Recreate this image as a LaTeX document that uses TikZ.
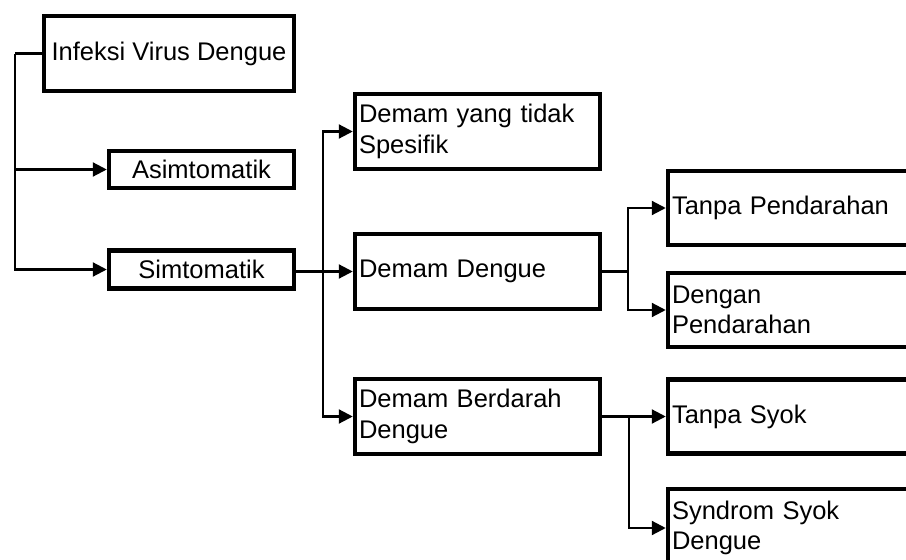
\documentclass[tikz,border=0pt]{standalone}
\usepackage{fontspec}
\setmainfont{Liberation Sans}
\usetikzlibrary{arrows.meta}
\begin{document}
\begin{tikzpicture}[x=1pt,y=-1pt,
  box/.style={draw=black,line width=4.5pt,fill=white,inner xsep=4pt,inner ysep=0pt,
    font=\fontsize{25.5}{30.6}\selectfont},
  cbox/.style={box,align=center},
  lbox/.style={box,align=left,text width=#1},
  conn/.style={line width=2.2pt},
  arr/.style={conn,-{Triangle[length=14pt,width=14pt]}}]
\clip (0,0) rectangle (906,560);
\fill[white] (0,0) rectangle (906,560);
% left column
\node[cbox,minimum width=250pt,minimum height=75pt] (inf) at (169,53.5) {Infeksi Virus Dengue};
\node[cbox,minimum width=185pt,minimum height=37pt] (asim) at (201.5,169.5) {Asimtomatik};
\node[cbox,minimum width=185pt,minimum height=38pt] (sim) at (201.5,269.5) {Simtomatik};
% middle column
\node[lbox=237pt,minimum width=245pt,minimum height=75pt] (dyts) at (477.5,131.5) {Demam yang tidak\\Spesifik};
\node[lbox=237pt,minimum width=245pt,minimum height=75pt] (dd) at (477.5,271.5) {Demam Dengue};
\node[lbox=237pt,minimum width=245pt,minimum height=75pt] (dbd) at (477.5,416.5) {Demam Berdarah\\Dengue};
% right column
\node[lbox=292pt,minimum width=300pt,minimum height=74pt] (tp) at (818,208) {Tanpa Pendarahan};
\node[lbox=292pt,minimum width=300pt,minimum height=74pt] (dp) at (818,310) {Dengan\\Pendarahan};
\node[lbox=292pt,minimum width=300pt,minimum height=74pt] (ts) at (818,416.5) {Tanpa Syok};
\node[lbox=292pt,minimum width=300pt,minimum height=78pt] (ss) at (818,528) {Syndrom Syok\\Dengue};
% connectors
\coordinate (j1) at (15,53.5);
\draw[conn] (inf.west) -- (j1);
\draw[arr] (j1) |- (asim.west);
\draw[arr] (j1) |- (sim.west);
\coordinate (j2) at (323,271.5);
\draw[arr] (sim.east |- dd.west) -- (dd.west);
\draw[arr] (j2) |- (dyts.west);
\draw[arr] (j2) |- (dbd.west);
\coordinate (j3) at (628,271.5);
\draw[conn] (dd.east) -- (j3);
\draw[arr] (j3) |- (tp.west);
\draw[arr] (j3) |- (dp.west);
\coordinate (j4) at (629,416.5);
\draw[arr] (dbd.east) -- (ts.west);
\draw[arr] (j4) |- (ss.west);
\end{tikzpicture}
\end{document}
